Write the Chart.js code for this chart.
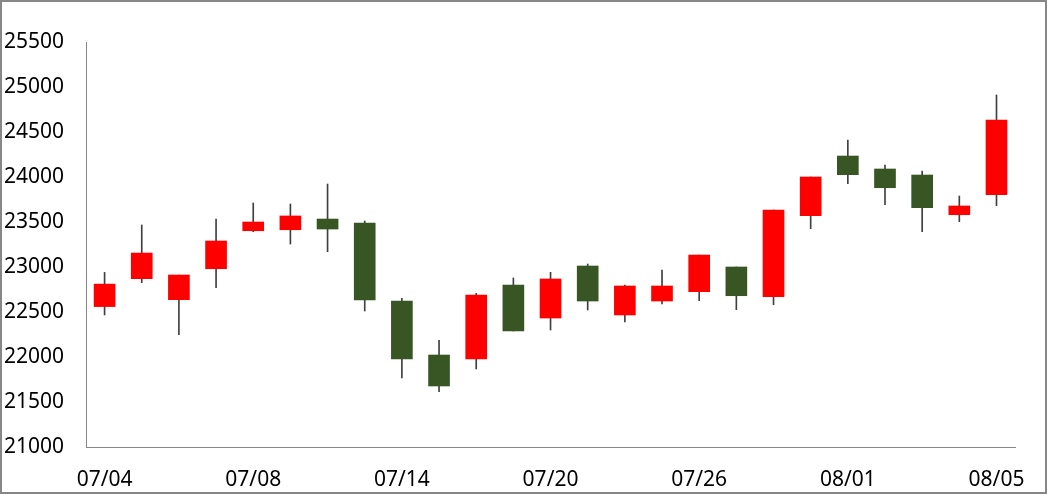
<!DOCTYPE html>
<html>
<head>
<meta charset="utf-8">
<script src="https://cdn.jsdelivr.net/npm/chart.js@4"></script>
<style>
  html, body { margin: 0; padding: 0; background: #fff; }
  #frame { width: 1047px; height: 494px; box-sizing: border-box; border: 2px solid #878787; }
  #canvas { display: block; }
</style>
</head>
<body>
<div id="frame"><canvas id="canvas" width="1043" height="490"></canvas></div>
<script>
var canvas = document.getElementById('canvas');
var ctx = canvas.getContext('2d');

// fechas (dias de mercado)
var fechas = ['07/04', '07/05', '07/06', '07/07', '07/08', '07/09', '07/10', '07/11', '07/14',
  '07/15', '07/16', '07/17', '07/20', '07/21', '07/22', '07/23', '07/26', '07/27', '07/28',
  '07/29', '08/01', '08/02', '08/03', '08/04', '08/05'];

// apertura, cierre, maximo, minimo
var apertura = [22560, 22870, 22637, 22981, 23403, 23414, 23533, 23489, 22622, 22022, 21978, 22800, 22433,
  23011, 22467, 22622, 22726, 23000, 22670, 23570, 24233, 24089, 24022, 23581, 23803];
var cierre = [22810, 23155, 22911, 23289, 23500, 23567, 23422, 22633, 21978, 21678, 22689, 22289, 22867,
  22622, 22789, 22789, 23133, 22681, 23633, 24000, 24026, 23881, 23659, 23678, 24633];
var maximo = [22940, 23467, 22911, 23533, 23711, 23700, 23922, 23511, 22652, 22185, 22707, 22878, 22941,
  23033, 22800, 22967, 23133, 23000, 23633, 24000, 24411, 24133, 24067, 23789, 24911];
var minimo = [22467, 22825, 22248, 22770, 23392, 23255, 23170, 22511, 21767, 21615, 21867, 22289, 22300,
  22522, 22389, 22589, 22626, 22526, 22581, 23426, 23926, 23692, 23392, 23503, 23681];

var ticksY = [21000, 25500, 500]; // min, max, paso

var cuerpos = [];
var mechas = [];
var colores = [];
for (var i = 0; i < fechas.length; i++) {
  cuerpos.push([apertura[i], cierre[i]]);
  mechas.push([minimo[i], maximo[i]]);
  colores.push(cierre[i] >= apertura[i] ? '#FF0000' : '#375623');
}

var fuente = { family: 'Noto Sans', size: 21 };

var chart = new Chart(ctx, {
  type: 'bar',
  data: {
    labels: fechas,
    datasets: [{
      label: 'mechas',
      data: mechas,
      backgroundColor: '#404040',
      barThickness: 1,
      grouped: false,
      order: 2
    }, {
      label: 'cuerpos',
      data: cuerpos,
      backgroundColor: colores,
      barThickness: 21,
      grouped: false,
      order: 1
    }]
  },
  options: {
    responsive: false,
    animation: false,
    layout: { padding: { top: 40, right: 29, bottom: 0, left: 0 } },
    plugins: {
      legend: { display: false },
      tooltip: { enabled: false }
    },
    scales: {
      x: {
        offset: true,
        grid: { display: false, drawTicks: false },
        border: { display: true, color: '#868686', width: 1 },
        ticks: {
          color: '#000',
          font: fuente,
          padding: 20,
          autoSkip: false,
          maxRotation: 0,
          callback: function (v, idx) { return idx % 4 === 0 ? fechas[idx] : ''; }
        },
        afterFit: function (scale) { scale.height = 45; }
      },
      y: {
        min: ticksY[0],
        max: ticksY[1],
        grid: { display: false, drawTicks: false },
        border: { display: true, color: '#868686', width: 1 },
        ticks: {
          color: '#000', font: fuente, padding: 22, stepSize: ticksY[2],
          callback: function (v) { return String(v); }
        },
        afterFit: function (scale) { scale.width = 84; }
      }
    }
  }
});
</script>
</body>
</html>
